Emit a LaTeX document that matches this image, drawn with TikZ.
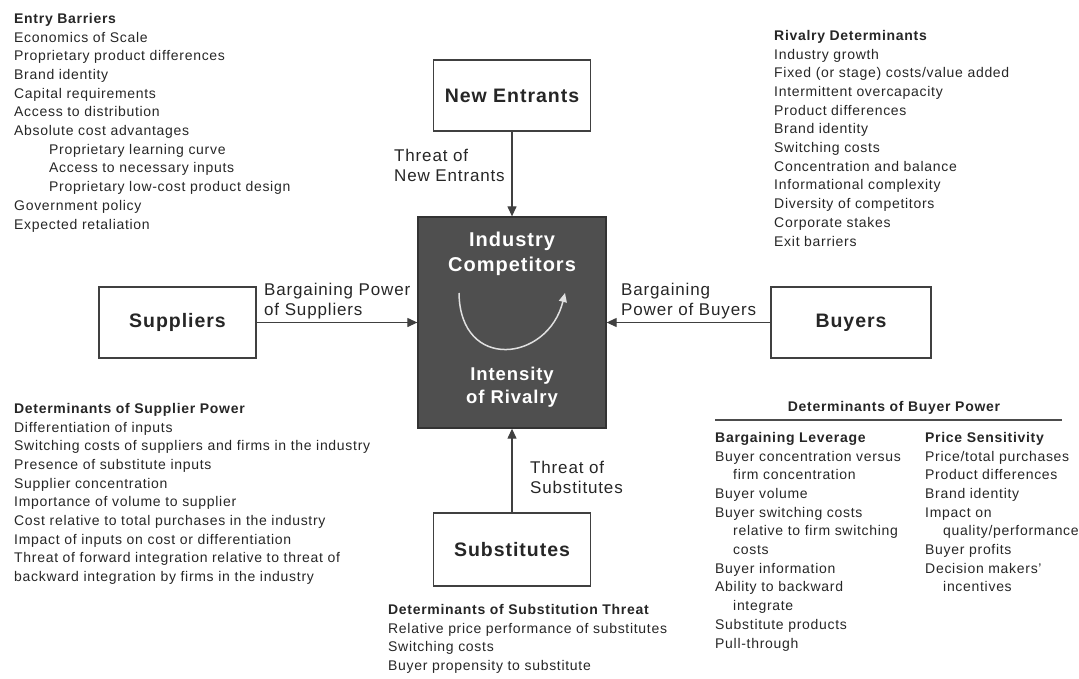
\documentclass[tikz,border=0pt]{standalone}
\usepackage{fontspec}
\setmainfont{Liberation Sans}[LetterSpace=5]
\usepackage{xcolor}
\usetikzlibrary{arrows.meta}
\newcommand{\fsize}[2]{\fontsize{#1}{#2}\selectfont}
\newcommand{\ind}{\hspace*{35pt}}
\newcommand{\sind}{\hspace*{18pt}}
\definecolor{boxfill}{HTML}{4F4F4F}

\begin{document}
\begin{tikzpicture}[x=1pt,y=-1pt,
    force/.style={draw=black!75,line width=1.3pt,fill=white,minimum width=157pt,minimum height=71pt,font=\fsize{19.5}{24}\bfseries,text=black!85},
    flow/.style={draw=black!75,line width=1.2pt,-{Triangle[length=10pt,width=9pt]}},
    lbl/.style={anchor=north west,inner sep=0pt,align=left,font=\fsize{17}{20},text=black!85},
    list/.style={anchor=north west,inner sep=0pt,align=left,font=\fsize{14}{18.7},text=black!85}]
    \useasboundingbox (0,0) rectangle (1079,678);

    \node[force] (newent) at (512,95.5) {New Entrants};
    \node[force] (supp) at (177.5,322.5) {Suppliers};
    \node[force,minimum width=160pt] (buy) at (851,322.5) {Buyers};
    \node[force,minimum height=73pt] (subs) at (512,549.5) {Substitutes};
    \node[draw=black!80,fill=boxfill,line width=1.3pt,minimum width=188pt,minimum height=211pt] (comp) at (512,322.5) {};

    \node[text=white,font=\fsize{20}{25}\bfseries,align=center] (indcomp) at (512,254) {Industry\\Competitors};
    \node[text=white,font=\fsize{18.5}{23}\bfseries,align=center] (rivalry) at (512,387) {Intensity\\of Rivalry};
    \draw[black!12,line width=1.5pt,-{Triangle[length=9pt,width=8pt]}] (459,293) .. controls (460,372) and (548,362) .. (565,293);

    \draw[flow] (newent.south) -- (comp.north);
    \draw[flow] (supp.east) -- (comp.west);
    \draw[flow] (buy.west) -- (comp.east);
    \draw[flow] (subs.north) -- (comp.south);

    \node[lbl] (thrnew) at (394,149) {Threat of\\New Entrants};
    \node[lbl] (bpsupp) at (264,283) {Bargaining Power\\of Suppliers};
    \node[lbl] (bpbuy) at (621,283) {Bargaining\\Power of Buyers};
    \node[lbl] (thrsub) at (530,461) {Threat of\\Substitutes};

    \node[list] (entry) at (14,13) {\textbf{Entry Barriers}\\Economics of Scale\\Proprietary product differences\\Brand identity\\Capital requirements\\Access to distribution\\Absolute cost advantages\\\ind Proprietary learning curve\\\ind Access to necessary inputs\\\ind Proprietary low-cost product design\\Government policy\\Expected retaliation};
    \node[list] (rivdet) at (774,30) {\textbf{Rivalry Determinants}\\Industry growth\\Fixed (or stage) costs/value added\\Intermittent overcapacity\\Product differences\\Brand identity\\Switching costs\\Concentration and balance\\Informational complexity\\Diversity of competitors\\Corporate stakes\\Exit barriers};
    \node[list] (suppdet) at (14,403) {\textbf{Determinants of Supplier Power}\\Differentiation of inputs\\Switching costs of suppliers and firms in the industry\\Presence of substitute inputs\\Supplier concentration\\Importance of volume to supplier\\Cost relative to total purchases in the industry\\Impact of inputs on cost or differentiation\\Threat of forward integration relative to threat of\\backward integration by firms in the industry};

    \node[font=\fsize{14}{18.7}\bfseries,text=black!85] (buytitle) at (894,408) {Determinants of Buyer Power};
    \draw[black!70,line width=1.5pt] (715,420) -- (1062,420);
    \node[list] (leverage) at (715,432) {\textbf{Bargaining Leverage}\\Buyer concentration versus\\\sind firm concentration\\Buyer volume\\Buyer switching costs\\\sind relative to firm switching\\\sind costs\\Buyer information\\Ability to backward\\\sind integrate\\Substitute products\\Pull-through};
    \node[list] (pricesens) at (925,432) {\textbf{Price Sensitivity}\\Price/total purchases\\Product differences\\Brand identity\\Impact on\\\sind quality/performance\\Buyer profits\\Decision makers'\\\sind incentives};

    \node[list] (subsdet) at (388,604) {\textbf{Determinants of Substitution Threat}\\Relative price performance of substitutes\\Switching costs\\Buyer propensity to substitute};
\end{tikzpicture}
\end{document}
